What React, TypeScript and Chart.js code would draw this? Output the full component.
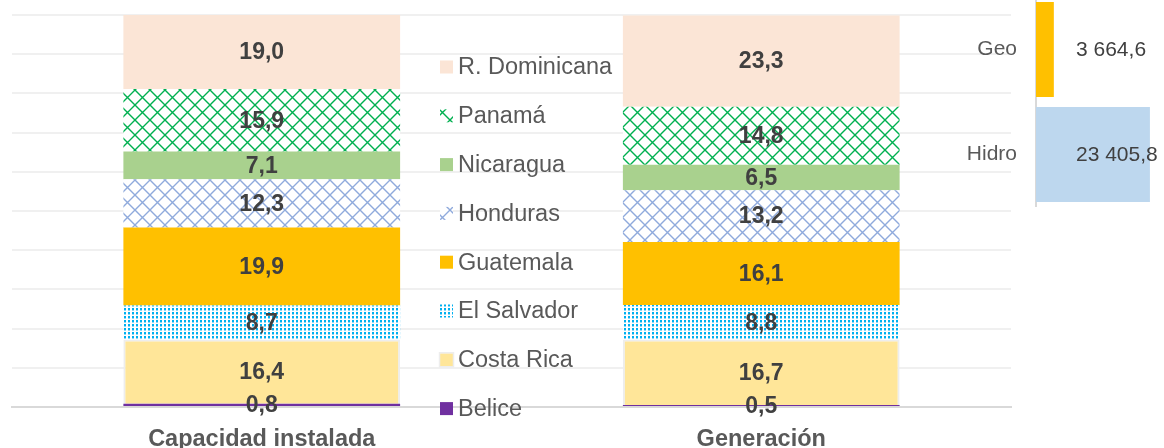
import React, { useEffect, useRef } from 'react';
import { Chart, registerables } from 'chart.js';
Chart.register(...registerables);

const categories = ['Capacidad instalada', 'Generación'];
const countries = ['Belice', 'Costa Rica', 'El Salvador', 'Guatemala', 'Honduras', 'Nicaragua', 'Panamá', 'R. Dominicana'];
const capacidad = [0.8, 16.4, 8.7, 19.9, 12.3, 7.1, 15.9, 19.0];
const generacion = [0.5, 16.7, 8.8, 16.1, 13.2, 6.5, 14.8, 23.3];
const tipoLabels = ['Geo', 'Hidro'];
const tipoValues = [3664.6, 23405.8];

const FONT = "'Liberation Sans', Arial, sans-serif";

function lattice(color: string, P: number) {
  const c = document.createElement('canvas');
  c.width = P; c.height = P;
  const ctx = c.getContext('2d')!;
  ctx.fillStyle = '#ffffff';
  ctx.fillRect(0, 0, P, P);
  ctx.strokeStyle = color;
  ctx.lineWidth = 1.4;
  ctx.beginPath();
  ctx.moveTo(0, 0); ctx.lineTo(P, P);
  ctx.moveTo(P, 0); ctx.lineTo(0, P);
  ctx.stroke();
  return ctx.createPattern(c, 'repeat')!;
}

function dots(color: string) {
  const c = document.createElement('canvas');
  c.width = 4; c.height = 4;
  const ctx = c.getContext('2d')!;
  ctx.fillStyle = '#ffffff';
  ctx.fillRect(0, 0, 4, 4);
  ctx.fillStyle = color;
  ctx.fillRect(0, 0, 2, 2);
  ctx.fillStyle = '#8fd8f5';
  ctx.fillRect(0, 2, 2, 1);
  return ctx.createPattern(c, 'repeat')!;
}

const fmt1 = (v: number) => v.toFixed(1).replace('.', ',');
const fmtThousands = (v: number) => {
  const [i, d] = v.toFixed(1).split('.');
  return i.replace(/\B(?=(\d{3})+(?!\d))/g, ' ') + ',' + d;
};

export default function App() {
  const mainRef = useRef<HTMLCanvasElement>(null);
  const sideRef = useRef<HTMLCanvasElement>(null);

  useEffect(() => {
    const fills: any[] = [
      '#7030A0',
      '#FFE699',
      dots('#00B0F0'),
      '#FFC000',
      lattice('#8FAADC', 15),
      '#A9D18E',
      lattice('#00B050', 15),
      '#FBE5D6',
    ];

    const datasets = countries.map((name, i) => ({
      label: name,
      data: [capacidad[i], generacion[i]],
      backgroundColor: fills[i],
      borderColor: name === 'Costa Rica' ? '#EDEDED' : 'rgba(0,0,0,0)',
      borderWidth: name === 'Costa Rica' ? 2 : 0,
      barPercentage: 0.554,
      categoryPercentage: 1,
    }));

    const labelPlugin = {
      id: 'valueLabels',
      afterDatasetsDraw(chart: any) {
        const ctx = chart.ctx;
        ctx.save();
        ctx.font = `bold 23px ${FONT}`;
        ctx.fillStyle = '#404040';
        ctx.textAlign = 'center';
        ctx.textBaseline = 'middle';
        chart.data.datasets.forEach((ds: any, di: number) => {
          const meta = chart.getDatasetMeta(di);
          meta.data.forEach((el: any, j: number) => {
            const y = (el.y + el.base) / 2;
            ctx.fillText(fmt1(ds.data[j]), el.x, y + 1);
          });
        });
        ctx.restore();
      },
    };

    const legendPlugin = {
      id: 'midLegend',
      afterDraw(chart: any) {
        const ctx = chart.ctx;
        ctx.save();
        ctx.font = `23.5px ${FONT}`;
        ctx.textBaseline = 'middle';
        ctx.textAlign = 'left';
        const items = chart.data.datasets.slice().reverse();
        items.forEach((ds: any, i: number) => {
          const cy = 67 + i * 48.8;
          ctx.fillStyle = ds.backgroundColor;
          ctx.fillRect(440, cy - 6.5, 13, 13);
          if (ds.borderWidth) {
            ctx.strokeStyle = ds.borderColor;
            ctx.lineWidth = 1.5;
            ctx.strokeRect(439.5, cy - 7, 14, 14);
          }
          ctx.fillStyle = '#595959';
          ctx.fillText(ds.label, 458, cy + 1);
        });
        ctx.restore();
      },
    };

    const main = new Chart(mainRef.current!, {
      type: 'bar',
      data: { labels: categories, datasets },
      plugins: [labelPlugin, legendPlugin],
      options: {
        animation: false,
        responsive: false,
        maintainAspectRatio: false,
        layout: { padding: { left: 12, right: 153, top: 15, bottom: 0 } },
        plugins: { legend: { display: false }, tooltip: { enabled: false } },
        scales: {
          x: {
            stacked: true,
            grid: { display: false, drawTicks: false },
            border: { display: true, color: '#D9D9D9', width: 2 },
            ticks: { font: { family: FONT, size: 23.5, weight: 'bold' }, color: '#595959', padding: 18 },
            afterFit: (s: any) => { s.height = 41; s.paddingLeft = 0; s.paddingRight = 0; },
          },
          y: {
            stacked: true,
            min: 0,
            max: 100,
            ticks: { display: false, stepSize: 10 },
            grid: { color: '#F0F0F0', lineWidth: 2, drawTicks: false },
            border: { display: false },
            afterFit: (s: any) => { s.width = 0; s.paddingTop = 0; s.paddingBottom = 0; },
          },
        },
      } as any,
    });

    const sideLabels = {
      id: 'sideLabels',
      afterDatasetsDraw(chart: any) {
        const ctx = chart.ctx;
        ctx.save();
        ctx.font = `21px ${FONT}`;
        ctx.fillStyle = '#404040';
        ctx.textAlign = 'left';
        ctx.textBaseline = 'middle';
        const meta = chart.getDatasetMeta(0);
        meta.data.forEach((el: any, j: number) => {
          ctx.fillText(fmtThousands(chart.data.datasets[0].data[j]), chart.chartArea.left + 40, el.y + 1);
        });
        ctx.restore();
      },
    };

    const side = new Chart(sideRef.current!, {
      type: 'bar',
      data: {
        labels: tipoLabels,
        datasets: [{
          data: tipoValues,
          backgroundColor: ['#FFC000', '#BDD7EE'],
          borderWidth: 0,
          barPercentage: 0.905,
          categoryPercentage: 1,
        }],
      },
      plugins: [sideLabels],
      options: {
        animation: false,
        responsive: false,
        maintainAspectRatio: false,
        indexAxis: 'y',
        layout: { padding: 0 },
        plugins: { legend: { display: false }, tooltip: { enabled: false } },
        scales: {
          x: { display: false, min: 0, max: 26300 },
          y: {
            grid: { display: false, drawTicks: false },
            border: { display: true, color: '#D9D9D9', width: 2 },
            ticks: { font: { family: FONT, size: 21 }, color: '#595959', padding: 19 },
            afterFit: (s: any) => { s.width = 95; s.paddingTop = 0; s.paddingBottom = 0; },
          },
        },
      } as any,
    });

    return () => { main.destroy(); side.destroy(); };
  }, []);

  return (
    <div style={{ position: 'fixed', left: 0, top: 0, width: 1164, height: 448, overflow: 'hidden', background: '#fff' }}>
      <canvas ref={mainRef} width={1164} height={448} style={{ position: 'absolute', left: 0, top: 0 }} />
      <canvas ref={sideRef} width={223} height={210} style={{ position: 'absolute', left: 941, top: -3 }} />
    </div>
  );
}
